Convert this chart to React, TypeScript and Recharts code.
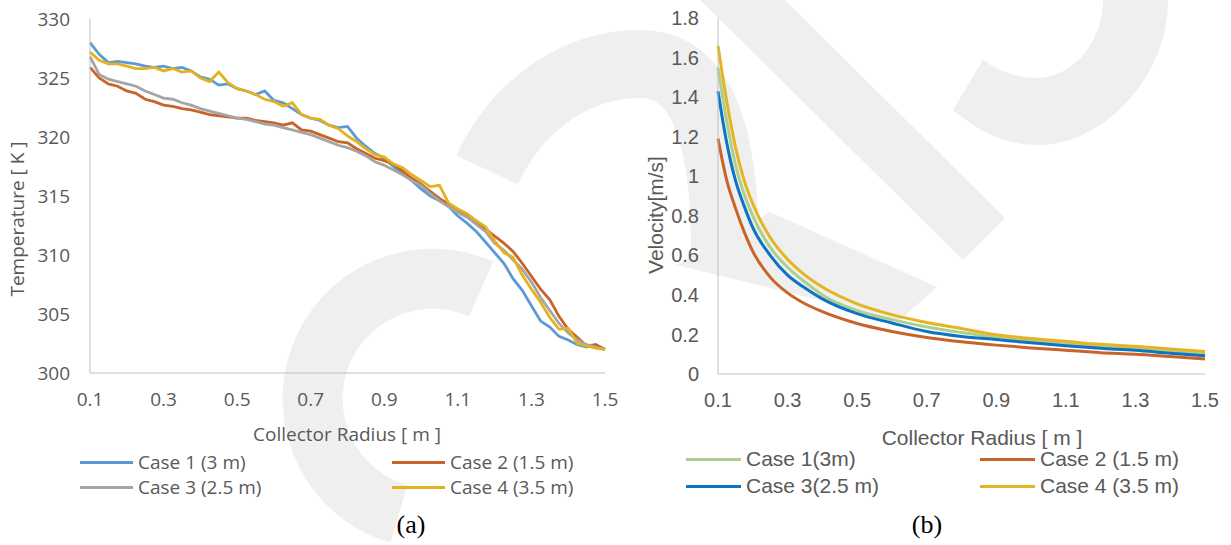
import React from 'react'
import { LineChart, Line, XAxis, YAxis } from 'recharts'

// temperature profiles, sampled every 0.025 m
const RADIUS = [
  0.1, 0.125, 0.15, 0.175, 0.2, 0.225, 0.25, 0.275, 0.3, 0.325, 0.35, 0.375, 0.4, 0.425, 0.45, 0.475,
  0.5, 0.525, 0.55, 0.575, 0.6, 0.625, 0.65, 0.675, 0.7, 0.725, 0.75, 0.775, 0.8, 0.825, 0.85, 0.875,
  0.9, 0.925, 0.95, 0.975, 1.0, 1.025, 1.05, 1.075, 1.1, 1.125, 1.15, 1.175, 1.2, 1.225, 1.25, 1.275,
  1.3, 1.325, 1.35, 1.375, 1.4, 1.425, 1.45, 1.475, 1.5,
]
const T_CASE1 = [
  328.0, 327.0, 326.3, 326.4, 326.3, 326.2, 326.0, 325.9, 326.0, 325.8, 325.9, 325.6, 325.1, 324.9, 324.4, 324.5,
  324.1, 323.9, 323.6, 323.9, 323.1, 322.9, 322.4, 321.9, 321.6, 321.4, 321.0, 320.8, 320.9, 319.9, 319.2, 318.6,
  318.2, 317.5, 316.9, 316.3, 315.6, 315.0, 314.6, 314.1, 313.3, 312.7, 312.0, 311.1, 310.2, 309.3, 308.0, 307.0,
  305.7, 304.4, 303.9, 303.1, 302.8, 302.4, 302.2, 302.4, 302.0,
]
const T_CASE2 = [
  325.9, 325.0, 324.5, 324.3, 323.9, 323.7, 323.2, 323.0, 322.7, 322.6, 322.4, 322.3, 322.1, 321.9, 321.8, 321.7,
  321.6, 321.6, 321.4, 321.3, 321.2, 321.0, 321.2, 320.6, 320.5, 320.2, 319.9, 319.6, 319.5, 319.0, 318.6, 318.2,
  318.0, 317.7, 317.1, 316.5, 316.0, 315.4, 314.8, 314.3, 313.8, 313.3, 312.8, 312.2, 311.6, 311.0, 310.3, 309.3,
  308.2, 307.1, 306.2, 304.8, 303.7, 303.0, 302.3, 302.4, 302.0,
]
const T_CASE3 = [
  326.8, 325.3, 324.9, 324.7, 324.5, 324.3, 323.9, 323.6, 323.3, 323.2, 322.9, 322.7, 322.4, 322.2, 322.0, 321.8,
  321.6, 321.5, 321.3, 321.1, 321.0, 320.8, 320.6, 320.4, 320.2, 319.9, 319.6, 319.3, 319.1, 318.8, 318.4, 317.9,
  317.6, 317.2, 316.8, 316.3, 315.9, 315.2, 314.6, 314.1, 313.6, 313.2, 312.6, 312.0, 311.0, 310.4, 309.6, 308.8,
  307.7, 306.4, 305.3, 304.2, 303.4, 302.8, 302.4, 302.2, 302.0,
]
const T_CASE4 = [
  327.2, 326.5, 326.2, 326.2, 326.0, 325.8, 325.8, 325.9, 325.6, 325.8, 325.5, 325.6, 325.0, 324.7, 325.5, 324.6,
  324.1, 323.9, 323.6, 323.2, 323.0, 322.6, 322.9, 321.9, 321.6, 321.5, 321.0, 320.7, 320.1, 319.6, 319.0, 318.5,
  318.3, 317.7, 317.4, 316.8, 316.3, 315.8, 315.9, 314.4, 313.9, 313.5, 312.9, 312.4, 311.2, 310.2, 309.8, 308.3,
  307.1, 306.0, 304.7, 303.7, 303.8, 302.5, 302.3, 302.1, 302.0,
]

// velocity profiles
const V_RADIUS = [0.1, 0.125, 0.15, 0.175, 0.2, 0.25, 0.3, 0.35, 0.4, 0.5, 0.6, 0.7, 0.8, 0.9, 1.0, 1.1, 1.2, 1.3, 1.4, 1.5]
const V_CASE1 = [1.55, 1.28, 1.06, 0.91, 0.8, 0.64, 0.54, 0.465, 0.4, 0.32, 0.275, 0.238, 0.21, 0.186, 0.17, 0.155, 0.14, 0.13, 0.115, 0.1]
const V_CASE2 = [1.19, 0.98, 0.84, 0.72, 0.62, 0.49, 0.41, 0.355, 0.315, 0.255, 0.215, 0.185, 0.163, 0.146, 0.132, 0.12, 0.108, 0.1, 0.088, 0.076]
const V_CASE3 = [1.43, 1.17, 0.98, 0.85, 0.74, 0.6, 0.5, 0.435, 0.38, 0.305, 0.258, 0.215, 0.19, 0.174, 0.158, 0.143, 0.13, 0.12, 0.105, 0.092]
const V_CASE4 = [1.66, 1.38, 1.15, 0.98, 0.86, 0.69, 0.58, 0.5, 0.44, 0.355, 0.3, 0.26, 0.23, 0.198, 0.18, 0.165, 0.15, 0.14, 0.127, 0.114]

const X_TICKS = [0.1, 0.3, 0.5, 0.7, 0.9, 1.1, 1.3, 1.5]
const T_TICKS = [300, 305, 310, 315, 320, 325, 330]
const V_TICKS = [0, 0.2, 0.4, 0.6, 0.8, 1, 1.2, 1.4, 1.6, 1.8]

const T_SERIES = [
  { key: 'c1', name: 'Case 1 (3 m)', color: '#5B9BD5', values: T_CASE1 },
  { key: 'c2', name: 'Case 2 (1.5 m)', color: '#C8642A', values: T_CASE2 },
  { key: 'c3', name: 'Case 3 (2.5 m)', color: '#A5A5A5', values: T_CASE3 },
  { key: 'c4', name: 'Case 4 (3.5 m)', color: '#E3B21E', values: T_CASE4 },
]
const V_SERIES = [
  { key: 'c1', name: 'Case 1(3m)', color: '#A9D18E', values: V_CASE1 },
  { key: 'c2', name: 'Case 2 (1.5 m)', color: '#C8642A', values: V_CASE2 },
  { key: 'c3', name: 'Case 3(2.5 m)', color: '#0F72C4', values: V_CASE3 },
  { key: 'c4', name: 'Case 4 (3.5 m)', color: '#E6B422', values: V_CASE4 },
]

const tempData = RADIUS.map((r, i) => {
  const row: any = { r }
  T_SERIES.forEach(s => (row[s.key] = s.values[i]))
  return row
})
const velData = V_RADIUS.map((r, i) => {
  const row: any = { r }
  V_SERIES.forEach(s => (row[s.key] = s.values[i]))
  return row
})

const OPEN = '"Open Sans", sans-serif'
const ARIAL = '"Liberation Sans", Arial, sans-serif'
const SERIF = '"Liberation Serif", "Times New Roman", serif'
const TXT = '#595959'
const AXIS = '#BFBFBF'
const WM = '#EFEFEF'

function abs(left: number, top: number, extra: any = {}): React.CSSProperties {
  return { position: 'absolute', left, top, whiteSpace: 'nowrap', ...extra }
}

function Legend2x2({ series, cols, rows, font, size, lineW }: any) {
  return (
    <>
      {series.map((s: any, i: number) => {
        const x = cols[i % 2]
        const y = rows[Math.floor(i / 2)]
        return (
          <div key={s.key} style={abs(x, y, { transform: 'translateY(-50%)', display: 'flex', alignItems: 'center', fontFamily: font, fontSize: size, color: TXT })}>
            <span style={{ display: 'inline-block', width: lineW, height: 3, background: s.color, marginRight: 5 }} />
            {s.name}
          </div>
        )
      })}
    </>
  )
}

export default function App() {
  return (
    <div style={{ position: 'absolute', left: 0, top: 0, width: 1231, height: 545, background: '#fff', overflow: 'hidden' }}>
      {/* faint watermark behind the figure */}
      <svg width={1231} height={545} style={{ position: 'absolute', left: 0, top: 0 }}>
        <path d="M700,0 L785,0 L1005,218 L963,260 Z" fill={WM} />
        <path d="M1168,0 C1168,80 1100,145 1040,145 C1000,145 975,128 953,110 L983,60 C1000,72 1020,78 1035,78 C1075,78 1103,40 1103,0 Z" fill={WM} />
        <path d="M487,170 C520,100 580,64 640,64 C700,64 725,130 725,250" fill="none" stroke={WM} strokeWidth={68} />
        <path d="M676,265 L770,212 L937,287 L900,320 Z" fill={WM} />
        <path d="M481,289 A120,120 0 1 0 399,514" fill="none" stroke={WM} strokeWidth={60} />
      </svg>

      {/* (a) temperature */}
      <div style={abs(0, 0)}>
        <LineChart width={620} height={420} data={tempData} margin={{ top: 19, right: 15, left: 0, bottom: 0 }}>
          <XAxis
            dataKey="r"
            type="number"
            domain={[0.1, 1.5]}
            ticks={X_TICKS}
            tickLine={false}
            axisLine={{ stroke: AXIS }}
            tick={{ fill: TXT, fontSize: 19, fontFamily: OPEN }}
            tickMargin={14}
            height={47}
          />
          <YAxis
            type="number"
            domain={[300, 330]}
            ticks={T_TICKS}
            tickLine={false}
            axisLine={{ stroke: AXIS }}
            tick={{ fill: TXT, fontSize: 19, fontFamily: OPEN }}
            tickMargin={14}
            width={90}
          />
          {T_SERIES.map(s => (
            <Line key={s.key} dataKey={s.key} name={s.name} type="linear" stroke={s.color} strokeWidth={2.8} dot={false} isAnimationActive={false} />
          ))}
        </LineChart>
      </div>
      <div style={abs(17, 219, { transform: 'translate(-50%,-50%) rotate(-90deg)', fontFamily: OPEN, fontSize: 19, color: TXT })}>Temperature [ K ]</div>
      <div style={abs(347, 434, { transform: 'translate(-50%,-50%)', fontFamily: OPEN, fontSize: 19, color: TXT })}>Collector Radius [ m ]</div>
      <Legend2x2 series={T_SERIES} cols={[80, 392]} rows={[462, 487]} font={OPEN} size={19} lineW={53} />
      <div style={abs(411, 525, { transform: 'translate(-50%,-50%)', fontFamily: SERIF, fontSize: 26, color: '#000' })}>(a)</div>

      {/* (b) velocity */}
      <div style={abs(620, 0)}>
        <LineChart width={600} height={420} data={velData} margin={{ top: 18, right: 15, left: 0, bottom: 0 }}>
          <XAxis
            dataKey="r"
            type="number"
            domain={[0.1, 1.5]}
            ticks={X_TICKS}
            tickLine={false}
            axisLine={{ stroke: AXIS }}
            tick={{ fill: TXT, fontSize: 20, fontFamily: ARIAL }}
            tickMargin={13}
            height={46}
          />
          <YAxis
            type="number"
            domain={[0, 1.8]}
            ticks={V_TICKS}
            tickLine={false}
            axisLine={{ stroke: AXIS }}
            tick={{ fill: TXT, fontSize: 20, fontFamily: ARIAL }}
            tickMargin={13}
            width={98}
          />
          {V_SERIES.map(s => (
            <Line key={s.key} dataKey={s.key} name={s.name} type="monotone" stroke={s.color} strokeWidth={3} dot={false} isAnimationActive={false} />
          ))}
        </LineChart>
      </div>
      <div style={abs(656, 215, { transform: 'translate(-50%,-50%) rotate(-90deg)', fontFamily: ARIAL, fontSize: 21, color: TXT })}>Velocity[m/s]</div>
      <div style={abs(982, 438, { transform: 'translate(-50%,-50%)', fontFamily: ARIAL, fontSize: 21, color: TXT })}>Collector Radius [ m ]</div>
      <Legend2x2 series={V_SERIES} cols={[686, 980]} rows={[459, 486]} font={ARIAL} size={21} lineW={55} />
      <div style={abs(927, 525, { transform: 'translate(-50%,-50%)', fontFamily: SERIF, fontSize: 26, color: '#000' })}>(b)</div>
    </div>
  )
}
